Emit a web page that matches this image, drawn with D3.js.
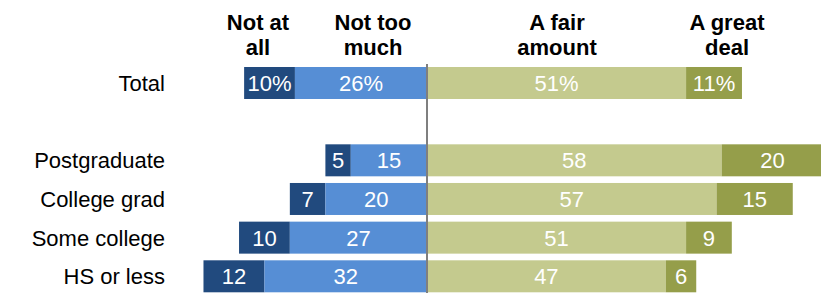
<!DOCTYPE html>
<html>
<head>
<meta charset="utf-8">
<script src="https://cdn.jsdelivr.net/npm/d3@7"></script>
<style>
  body { margin: 0; background: #fff; }
  text { font-family: "Liberation Sans", Arial, sans-serif; }
</style>
</head>
<body>
<div id="chart"></div>
<script>
var svgWidth = 821;
var svgHeight = 293;

// rows, "" is the empty spacer row between Total and the groups
var categories = ["Total", "", "Postgraduate", "College grad", "Some college", "HS or less"];
var notAtAll   = [10, null, 5, 7, 10, 12];
var notTooMuch = [26, null, 15, 20, 27, 32];
var fairAmount = [51, null, 58, 57, 51, 47];
var greatDeal  = [11, null, 20, 15, 9, 6];

var headers = [
  { lines: ["Not at", "all"], x: 258 },
  { lines: ["Not too", "much"], x: 373 },
  { lines: ["A fair", "amount"], x: 557 },
  { lines: ["A great", "deal"], x: 727 }
];

var colors = {
  notAtAll: "#214a7e",
  notTooMuch: "#568ed5",
  fairAmount: "#c4ca8e",
  greatDeal: "#959e4a"
};

var zeroX = 427;
var pxPerUnit = 5.08;

var svg = d3.select("#chart")
  .append("svg")
  .attr("width", svgWidth)
  .attr("height", svgHeight);

var x = d3.scaleLinear()
  .domain([-50, 80])
  .range([zeroX - 50 * pxPerUnit, zeroX + 80 * pxPerUnit]);

var y = d3.scaleBand()
  .domain(categories)
  .range([67, 292.3])
  .paddingInner(0.1724)
  .paddingOuter(0);

// build segments per row
var segments = [];
categories.forEach(function(cat, i) {
  if (notAtAll[i] == null) return;
  var a = notAtAll[i], b = notTooMuch[i], c = fairAmount[i], d = greatDeal[i];
  var suffix = i === 0 ? "%" : "";
  segments.push({ cat: cat, x0: -(a + b), x1: -b, v: a, fill: colors.notAtAll, suffix: suffix });
  segments.push({ cat: cat, x0: -b, x1: 0, v: b, fill: colors.notTooMuch, suffix: suffix });
  segments.push({ cat: cat, x0: 0, x1: c, v: c, fill: colors.fairAmount, suffix: suffix });
  segments.push({ cat: cat, x0: c, x1: c + d, v: d, fill: colors.greatDeal, suffix: suffix });
});

svg.selectAll("rect.seg")
  .data(segments)
  .enter()
  .append("rect")
  .attr("class", "seg")
  .attr("x", d => x(d.x0))
  .attr("y", d => y(d.cat))
  .attr("width", d => x(d.x1) - x(d.x0))
  .attr("height", y.bandwidth())
  .attr("fill", d => d.fill);

svg.selectAll("text.val")
  .data(segments)
  .enter()
  .append("text")
  .attr("class", "val")
  .attr("x", d => (x(d.x0) + x(d.x1)) / 2)
  .attr("y", d => y(d.cat) + y.bandwidth() / 2 + 8)
  .attr("text-anchor", "middle")
  .attr("font-size", "22px")
  .attr("fill", "#fff")
  .text(d => d.v + d.suffix);

// row labels
svg.selectAll("text.rowlab")
  .data(categories.filter(c => c !== ""))
  .enter()
  .append("text")
  .attr("class", "rowlab")
  .attr("x", 165)
  .attr("y", d => y(d) + y.bandwidth() / 2 + 8)
  .attr("text-anchor", "end")
  .attr("font-size", "22px")
  .attr("fill", "#000")
  .text(d => d);

// zero line
svg.append("line")
  .attr("x1", x(0))
  .attr("x2", x(0))
  .attr("y1", 64)
  .attr("y2", svgHeight)
  .attr("stroke", "#7f7f7f")
  .attr("stroke-width", 2);

// column headers
headers.forEach(function(h) {
  var t = svg.append("text")
    .attr("text-anchor", "middle")
    .attr("font-size", "22px")
    .attr("font-weight", "bold")
    .attr("fill", "#000");
  h.lines.forEach(function(line, j) {
    t.append("tspan")
      .attr("x", h.x)
      .attr("y", 30 + j * 25)
      .text(line);
  });
});
</script>
</body>
</html>
